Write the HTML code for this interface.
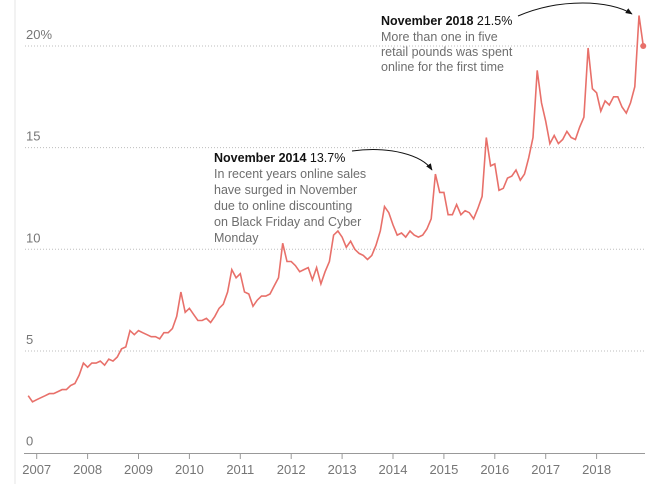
<!DOCTYPE html>
<html><head><meta charset="utf-8"><style>
body{margin:0;background:#fff;}
svg text{font-family:"Liberation Sans",sans-serif;}
.tk{fill:#767676;font-size:13px;}
.an{fill:#6e6e6e;font-size:12.5px;}
.ab{fill:#121212;font-size:12.5px;font-weight:bold;}
</style></head><body>
<svg id="chart" width="655" height="484">
<defs><marker id="ah" viewBox="0 0 10 10" refX="9" refY="5" markerWidth="7" markerHeight="7" orient="auto"><path d="M0,1 L10,5 L0,9z" fill="#121212"/></marker></defs>
<line x1="15" y1="0" x2="15" y2="484" stroke="#e6e6e6"/>
<g id="grid"></g><g id="xaxis"></g>
<path id="line" fill="none" stroke="#e8706a" stroke-width="1.6"/>
<circle id="lastpt" r="3" fill="#e8706a"/>
<g>
<text x="214" y="162"><tspan class="ab">November 2014</tspan><tspan class="an" fill="#121212" style="fill:#121212"> 13.7%</tspan></text>
<text class="an" x="214" y="178">In recent years online sales</text>
<text class="an" x="214" y="194">have surged in November</text>
<text class="an" x="214" y="210">due to online discounting</text>
<text class="an" x="214" y="226">on Black Friday and Cyber</text>
<text class="an" x="214" y="242">Monday</text>
<path d="M352,151 C390,146 422,155 432,170" fill="none" stroke="#121212" stroke-width="1" marker-end="url(#ah)"/>
</g>
<g>
<text x="381" y="25"><tspan class="ab">November 2018</tspan><tspan class="an" style="fill:#121212"> 21.5%</tspan></text>
<text class="an" x="381" y="41">More than one in five</text>
<text class="an" x="381" y="56">retail pounds was spent</text>
<text class="an" x="381" y="71">online for the first time</text>
<path d="M518,16 C560,-2 610,0 632,14" fill="none" stroke="#121212" stroke-width="1" marker-end="url(#ah)"/>
</g>
</svg>
<script>
const startYear = 2006, startMonth = 10; // Nov 2006 (0-based month)
const values = [
2.8,2.5,
2.6,2.7,2.8,2.9,2.9,3.0,3.1,3.1,3.3,3.4,3.8,4.4,
4.2,4.4,4.4,4.5,4.3,4.6,4.5,4.7,5.1,5.2,6.0,5.8,
6.0,5.9,5.8,5.7,5.7,5.6,5.9,5.9,6.1,6.7,7.9,6.9,
7.1,6.8,6.5,6.5,6.6,6.4,6.7,7.1,7.3,7.9,9.0,8.6,
8.8,7.9,7.8,7.2,7.5,7.7,7.7,7.8,8.2,8.6,10.3,9.4,
9.4,9.2,8.9,9.0,9.1,8.5,9.1,8.3,8.9,9.4,10.7,10.9,
10.6,10.1,10.4,10.0,9.8,9.7,9.5,9.7,10.2,10.9,12.1,11.8,
11.2,10.7,10.8,10.6,10.9,10.7,10.6,10.7,11.0,11.5,13.7,12.8,
12.8,11.7,11.7,12.2,11.7,11.9,11.8,11.5,12.0,12.6,15.5,14.1,
14.2,12.9,13.0,13.5,13.6,13.9,13.4,13.7,14.5,15.5,18.8,17.2,
16.3,15.2,15.6,15.2,15.4,15.8,15.5,15.4,16.0,16.5,19.9,17.9,
17.7,16.8,17.3,17.1,17.5,17.5,17.0,16.7,17.2,18.0,21.5,20.0];
const yTicks = [0,5,10,15,20];
const yTickLabels = ["0","5","10","15","20%"];
const xYears = [2007,2008,2009,2010,2011,2012,2013,2014,2015,2016,2017,2018];
const NS="http://www.w3.org/2000/svg";
const x = (yr, m) => 36.7 + ((yr-2007)*12 + m) * (50.9/12);
const y = v => 452.6 - v*20.33;
const grid=document.getElementById('grid'), xa=document.getElementById('xaxis');
yTicks.forEach((t,i)=>{
  if(t>0){const l=document.createElementNS(NS,'line');
  l.setAttribute('x1',25);l.setAttribute('x2',645);l.setAttribute('y1',y(t));l.setAttribute('y2',y(t));
  l.setAttribute('stroke','#bdbdbd');l.setAttribute('stroke-dasharray','1,2');
  
  
  grid.appendChild(l);}
  const tx=document.createElementNS(NS,'text');
  tx.setAttribute('x',26);tx.setAttribute('y',y(t)-7);tx.setAttribute('class','tk');
  tx.textContent=yTickLabels[i];
  
  
  grid.appendChild(tx);
});
const ax=document.createElementNS(NS,'line');
ax.setAttribute('x1',24);ax.setAttribute('x2',645);ax.setAttribute('y1',453.5);ax.setAttribute('y2',453.5);ax.setAttribute('stroke','#999');


xa.appendChild(ax);
xYears.forEach(yr=>{
  const px=x(yr,0);
  const tl=document.createElementNS(NS,'line');
  tl.setAttribute('x1',px);tl.setAttribute('x2',px);tl.setAttribute('y1',453.5);tl.setAttribute('y2',459);tl.setAttribute('stroke','#999');
  
  
  xa.appendChild(tl);
  const tx=document.createElementNS(NS,'text');
  tx.setAttribute('x',px);tx.setAttribute('y',474);tx.setAttribute('text-anchor','middle');tx.setAttribute('class','tk');
  tx.textContent=yr;
  
  
  xa.appendChild(tx);
});
let d='';
values.forEach((v,i)=>{const m=startMonth+i, yr=startYear+Math.floor(m/12);
  d+=(i?'L':'M')+x(yr,m%12).toFixed(1)+','+y(v).toFixed(1);});
document.getElementById('line').setAttribute('d',d);
const li=values.length-1, lm=startMonth+li;
const c=document.getElementById('lastpt');
c.setAttribute('cx',x(startYear+Math.floor(lm/12),lm%12));c.setAttribute('cy',y(values[li]));
</script>
</body></html>
